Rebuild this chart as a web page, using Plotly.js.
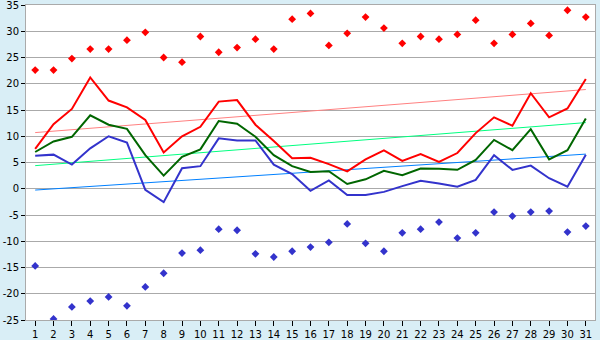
<!DOCTYPE html>
<html>
<head>
<meta charset="utf-8">
<script src="https://cdn.plot.ly/plotly-3.0.1.min.js"></script>
<style>html,body{margin:0;padding:0;background:#d9eef6;}#chart{width:600px;height:340px;}</style>
</head>
<body>
<div id="chart"></div>
<script>
var days = [1,2,3,4,5,6,7,8,9,10,11,12,13,14,15,16,17,18,19,20,21,22,23,24,25,26,27,28,29,30,31];
var maxAbs = [22.6,22.6,24.8,26.6,26.6,28.3,29.8,25.0,24.1,29.0,26.0,26.9,28.5,26.6,32.3,33.4,27.3,29.6,32.7,30.6,27.7,29.0,28.5,29.4,32.1,27.7,29.4,31.5,29.2,34.0,32.7];
var maxAvg = [7.6,12.3,15.2,21.2,16.8,15.5,13.1,6.9,10.0,11.8,16.6,16.9,12.2,9.1,5.8,5.9,4.7,3.3,5.6,7.3,5.3,6.6,5.1,6.8,10.6,13.6,12.0,18.2,13.6,15.3,20.9];
var meanAvg = [7.0,9.0,9.9,14.0,12.2,11.4,6.4,2.5,6.1,7.5,12.9,12.4,9.9,6.4,4.3,3.2,3.35,0.9,1.8,3.4,2.6,3.85,3.8,3.6,5.5,9.3,7.35,11.35,5.6,7.35,13.4];
var minAvg = [6.3,6.5,4.6,7.7,10.0,8.8,-0.2,-2.55,3.9,4.3,9.6,9.2,9.2,4.6,2.8,-0.4,1.6,-1.2,-1.2,-0.6,0.5,1.5,1.0,0.4,1.7,6.4,3.6,4.4,2.0,0.4,6.5];
var minAbs = [-14.7,-24.8,-22.5,-21.4,-20.6,-22.3,-18.7,-16.1,-12.25,-11.7,-7.7,-7.9,-12.4,-13.0,-11.9,-11.1,-10.2,-6.7,-10.4,-11.9,-8.4,-7.7,-6.35,-9.4,-8.4,-4.45,-5.2,-4.45,-4.25,-8.25,-7.1];
var trendX = [1, 31];
var trendMax = [10.7, 18.9];
var trendMean = [4.4, 12.6];
var trendMin = [-0.25, 6.6];
var yTicks = [-25,-20,-15,-10,-5,0,5,10,15,20,25,30,35];
var yTickText = ['-25','-20','-15','-10','-5','0','5','10','15','20','25','30','35'];

var traces = [
  {x: trendX, y: trendMax, mode: 'lines', line: {color: '#ff8080', width: 1}},
  {x: trendX, y: trendMean, mode: 'lines', line: {color: '#00ff80', width: 1}},
  {x: trendX, y: trendMin, mode: 'lines', line: {color: '#0080ff', width: 1}},
  {x: days, y: minAvg, mode: 'lines', line: {color: '#3333cc', width: 2}},
  {x: days, y: meanAvg, mode: 'lines', line: {color: '#006600', width: 2}},
  {x: days, y: maxAvg, mode: 'lines', line: {color: '#ff0000', width: 2}},
  {x: days, y: maxAbs, mode: 'markers', marker: {symbol: 'diamond', size: 6, color: '#ff0000'}},
  {x: days, y: minAbs, mode: 'markers', marker: {symbol: 'diamond', size: 6, color: '#3333cc'}}
];

var layout = {
  width: 600, height: 340,
  margin: {l: 26, r: 5, t: 5, b: 20, pad: 0},
  paper_bgcolor: '#d9eef6',
  plot_bgcolor: '#ffffff',
  showlegend: false,
  font: {family: 'DejaVu Sans, Verdana, sans-serif', size: 10, color: '#000000'},
  xaxis: {
    range: [0.5, 31.5], tickvals: days, ticktext: days.map(String),
    showgrid: false, zeroline: false,
    showline: true, mirror: true, linecolor: '#aaaaaa', linewidth: 1,
    ticks: 'outside', ticklen: 5, tickcolor: '#000000', tickwidth: 1,
    tickfont: {size: 10}, ticklabeloverflow: 'allow'
  },
  yaxis: {
    range: [-25, 35], tickvals: yTicks, ticktext: yTickText,
    showgrid: true, gridcolor: '#aaaaaa', gridwidth: 1, zeroline: false,
    showline: true, mirror: true, linecolor: '#aaaaaa', linewidth: 1,
    ticks: 'outside', ticklen: 4, tickcolor: '#000000', tickwidth: 1,
    tickfont: {size: 10}, ticklabeloverflow: 'allow'
  }
};

Plotly.newPlot('chart', traces, layout, {staticPlot: true, displayModeBar: false});
</script>
</body>
</html>
